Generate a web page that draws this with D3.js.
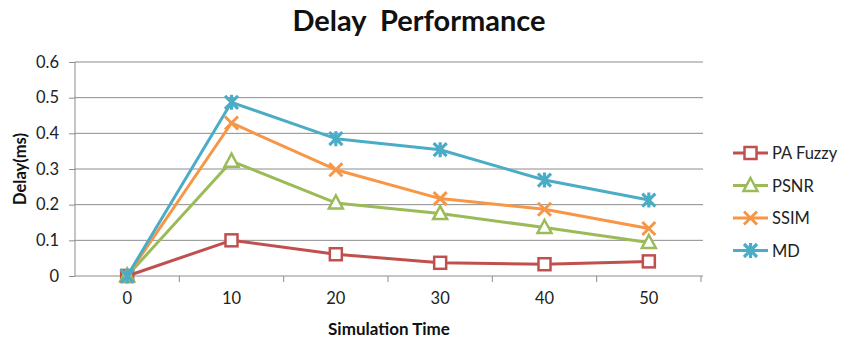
<!DOCTYPE html>
<html>
<head>
<meta charset="utf-8">
<script src="https://cdn.jsdelivr.net/npm/d3@7"></script>
<style>
  body { margin: 0; background: #fff; }
  svg { display: block; font-family: Lato, "Open Sans", "Liberation Sans", sans-serif; }
</style>
</head>
<body>
<svg id="chart" width="843" height="345"></svg>
<script>
// Delay per simulation time, four schemes
const categories = ["0", "10", "20", "30", "40", "50"];
const paFuzzy = [0, 0.10, 0.061, 0.037, 0.033, 0.041];
const psnr    = [0, 0.322, 0.205, 0.175, 0.136, 0.094];
const ssim    = [0, 0.429, 0.298, 0.217, 0.187, 0.133];
const md      = [0, 0.487, 0.385, 0.354, 0.269, 0.213];
const yTicks  = [0, 0.1, 0.2, 0.3, 0.4, 0.5, 0.6];

const series = [
  { name: "PA Fuzzy", values: paFuzzy, color: "#C0504D", marker: "square" },
  { name: "PSNR",     values: psnr,    color: "#9BBB59", marker: "triangle" },
  { name: "SSIM",     values: ssim,    color: "#F79646", marker: "x" },
  { name: "MD",       values: md,      color: "#4BACC6", marker: "star" }
];

const svg = d3.select("#chart");
const plot = { left: 75, right: 701, top: 62, bottom: 276 };

const x = d3.scaleBand().domain(categories).range([plot.left, plot.right]);
const y = d3.scaleLinear().domain([0, 0.6]).range([plot.bottom, plot.top]);
const cx = c => x(c) + x.bandwidth() / 2;

// Horizontal gridlines
svg.append("g").selectAll("line").data(yTicks.slice(1)).join("line")
  .attr("x1", plot.left).attr("x2", plot.right + 2)
  .attr("y1", d => y(d)).attr("y2", d => y(d))
  .attr("stroke", "#8c8c8c").attr("stroke-width", 1);

// Y axis
const yAxis = svg.append("g").attr("transform", `translate(${plot.left},0)`)
  .call(d3.axisLeft(y).tickValues(yTicks).tickFormat(d => d === 0 ? "0" : d3.format(".1f")(d)).tickSize(6).tickPadding(10));
yAxis.select(".domain").attr("stroke", "#8c8c8c").attr("d", `M0,${plot.top}V${plot.bottom}`);
yAxis.selectAll(".tick line").attr("stroke", "#8c8c8c");
yAxis.selectAll("text").attr("font-size", 16.5).attr("fill", "#222").attr("font-family", "Lato, sans-serif");

// X axis: ticks on category boundaries
const xg = svg.append("g").attr("transform", `translate(0,${plot.bottom})`);
xg.append("line").attr("x1", plot.left).attr("x2", plot.right + 2)
  .attr("stroke", "#8c8c8c");
const bounds = categories.map(c => x(c)).concat([plot.right]);
xg.selectAll("line.tk").data(bounds.slice(1)).join("line").attr("class", "tk")
  .attr("x1", d => d).attr("x2", d => d).attr("y1", 0).attr("y2", 6)
  .attr("stroke", "#8c8c8c");
xg.selectAll("text").data(categories).join("text")
  .attr("x", d => cx(d)).attr("y", 28)
  .attr("text-anchor", "middle").attr("font-size", 16.5).attr("fill", "#222")
  .text(d => d);

// Titles
svg.append("text").attr("x", 419).attr("y", 31).attr("text-anchor", "middle")
  .attr("font-size", 29).attr("font-weight", "bold").attr("fill", "#111")
  .attr("xml:space", "preserve").text("Delay  Performance");
svg.append("text").attr("x", 389).attr("y", 335).attr("text-anchor", "middle")
  .attr("font-size", 17).attr("font-weight", "bold").attr("fill", "#111")
  .text("Simulation Time");
svg.append("text").attr("transform", "translate(26,169) rotate(-90)")
  .attr("text-anchor", "middle").attr("font-size", 16.5).attr("font-weight", "bold")
  .attr("fill", "#111").text("Delay(ms)");

// Marker drawing
function drawMarker(g, type, color, px, py) {
  if (type === "square") {
    g.append("rect").attr("x", px - 6).attr("y", py - 6).attr("width", 12).attr("height", 12)
      .attr("fill", "#fff").attr("stroke", color).attr("stroke-width", 2.5);
  } else if (type === "triangle") {
    g.append("path").attr("d", `M${px},${py - 7.5}L${px + 7},${py + 5.5}L${px - 7},${py + 5.5}Z`)
      .attr("fill", "#fff").attr("stroke", color).attr("stroke-width", 2.5);
  } else if (type === "x") {
    g.append("path").attr("d", `M${px - 6.5},${py - 6.5}L${px + 6.5},${py + 6.5}M${px + 6.5},${py - 6.5}L${px - 6.5},${py + 6.5}`)
      .attr("stroke", color).attr("stroke-width", 3).attr("fill", "none");
  } else {
    g.append("path").attr("d", `M${px - 6.5},${py - 6.5}L${px + 6.5},${py + 6.5}M${px + 6.5},${py - 6.5}L${px - 6.5},${py + 6.5}M${px},${py - 7.5}L${px},${py + 7.5}`)
      .attr("stroke", color).attr("stroke-width", 3.2).attr("fill", "none");
  }
}

// Series lines and markers
const line = d3.line().x((d, i) => cx(categories[i])).y(d => y(d));
series.forEach(s => {
  const g = svg.append("g");
  g.append("path").datum(s.values).attr("d", line)
    .attr("fill", "none").attr("stroke", s.color).attr("stroke-width", 3)
    .attr("stroke-linejoin", "round");
  s.values.forEach((v, i) => drawMarker(g, s.marker, s.color, cx(categories[i]), y(v)));
});

// Legend
const legend = svg.append("g");
series.forEach((s, i) => {
  const ly = 153 + i * 32.5;
  legend.append("line").attr("x1", 733).attr("x2", 768).attr("y1", ly).attr("y2", ly)
    .attr("stroke", s.color).attr("stroke-width", 3);
  drawMarker(legend, s.marker, s.color, 750.5, ly);
  legend.append("text").attr("x", 772).attr("y", ly + 6)
    .attr("font-size", 16.5).attr("fill", "#222").text(s.name);
});
</script>
</body>
</html>
